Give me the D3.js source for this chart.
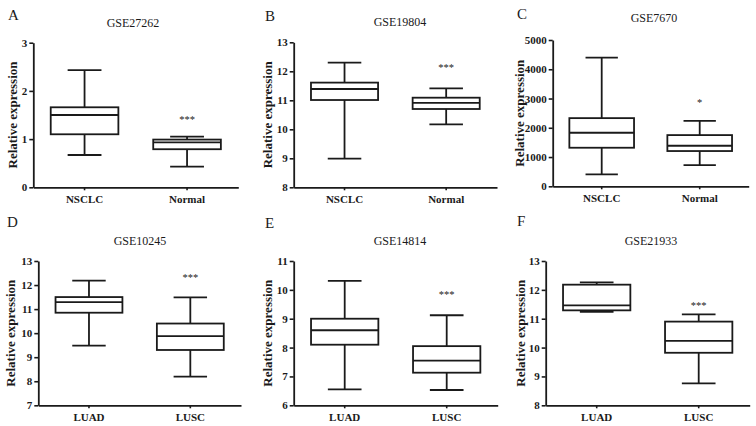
<!DOCTYPE html>
<html>
<head>
<meta charset="utf-8">
<script src="https://cdn.jsdelivr.net/npm/d3@7"></script>
<style>
  html, body { margin: 0; padding: 0; background: #fff; }
  svg { display: block; }
  text { font-family: "Liberation Serif", "Times New Roman", serif; fill: #1a1a1a; }
</style>
</head>
<body>
<div id="chart"></div>
<script>
// ---- data ----
var titles = ["GSE27262", "GSE19804", "GSE7670", "GSE10245", "GSE14814", "GSE21933"];
var letters = ["A", "B", "C", "D", "E", "F"];
var topCats = ["NSCLC", "Normal"];
var bottomCats = ["LUAD", "LUSC"];

// box stats per group: [min, q1, median, q3, max]
var gse27262 = [[0.67, 1.10, 1.50, 1.66, 2.43], [0.43, 0.79, 0.93, 0.99, 1.05]];
var gse19804 = [[8.99, 11.01, 11.39, 11.61, 12.30], [10.17, 10.70, 10.91, 11.09, 11.41]];
var gse7670  = [[409, 1318, 1830, 2330, 4400], [727, 1205, 1386, 1750, 2239]];
var gse10245 = [[9.48, 10.85, 11.29, 11.50, 12.18], [8.19, 9.30, 9.88, 10.40, 11.49]];
var gse14814 = [[6.55, 8.10, 8.60, 9.00, 10.31], [6.53, 7.13, 7.55, 8.05, 9.12]];
var gse21933 = [[11.24, 11.29, 11.46, 12.18, 12.26], [8.76, 9.82, 10.23, 10.90, 11.15]];

var yTicks = [
  [0, 1, 2, 3],
  [8, 9, 10, 11, 12, 13],
  [0, 1000, 2000, 3000, 4000, 5000],
  [7, 8, 9, 10, 11, 12, 13],
  [6, 7, 8, 9, 10, 11],
  [8, 9, 10, 11, 12, 13]
];
var stars = ["***", "***", "*", "***", "***", "***"];
var starAt = [1.44, 12.2, 2915, 12.39, 9.90, 11.5];

// ---- layout (pixel placement of each panel) ----
var layout = [
  {x0: 33.3,  x1: 238.3, yT: 42.7, yB: 187.3, lx: 8,   ly: 20,  tx: 133, ty: 26.5, labX: 16.5},
  {x0: 293.7, x1: 497,   yT: 42.3, yB: 187.3, lx: 265, ly: 21,  tx: 400, ty: 26,   labX: 272},
  {x0: 552.7, x1: 748.7, yT: 40,   yB: 186.3, lx: 517, ly: 18.5, tx: 654, ty: 22,  labX: 524},
  {x0: 38.3,  x1: 241,   yT: 261,  yB: 405.3, lx: 7,   ly: 226.5, tx: 140, ty: 245.3, labX: 15},
  {x0: 293.7, x1: 497.7, yT: 261,  yB: 405.3, lx: 265, ly: 228, tx: 400, ty: 244.7, labX: 272},
  {x0: 545.7, x1: 749.7, yT: 261,  yB: 405.3, lx: 517, ly: 226, tx: 651, ty: 245,   labX: 525}
];

var allStats = [gse27262, gse19804, gse7670, gse10245, gse14814, gse21933];
var ink = "#1a1a1a";

var svg = d3.select("#chart").append("svg")
  .attr("width", 756).attr("height", 426);

allStats.forEach(function(stats, i){
  var L = layout[i];
  var cats = i < 3 ? topCats : bottomCats;
  var ticks = yTicks[i];
  var g = svg.append("g");

  var x = d3.scaleBand().domain(cats).range([L.x0, L.x1])
    .paddingInner(0.34).paddingOuter(0.17);
  var y = d3.scaleLinear().domain([ticks[0], ticks[ticks.length - 1]]).range([L.yB, L.yT]);

  // panel letter + title
  g.append("text").attr("x", L.lx).attr("y", L.ly)
    .style("font-size", "15px").text(letters[i]);
  g.append("text").attr("x", L.tx).attr("y", L.ty)
    .attr("text-anchor", "middle").style("font-size", "12px").text(titles[i]);

  // y axis
  var ya = g.append("g").attr("transform", "translate(" + L.x0 + ",0)")
    .call(d3.axisLeft(y).tickValues(ticks).tickFormat(d3.format("d"))
      .tickSize(4).tickSizeOuter(0).tickPadding(2));
  // x axis
  var xa = g.append("g").attr("transform", "translate(0," + L.yB + ")")
    .call(d3.axisBottom(x).tickSize(3).tickSizeOuter(0).tickPadding(3));
  [ya, xa].forEach(function(a){
    a.select(".domain").attr("stroke", ink).attr("stroke-width", 1.8);
    a.selectAll(".tick line").attr("stroke", ink).attr("stroke-width", 1.6);
    a.selectAll("text").attr("fill", ink)
      .style("font-family", "'Liberation Serif', 'Times New Roman', serif")
      .style("font-weight", "bold").style("font-size", "11px");
  });
  xa.selectAll("text").attr("dy", "0.9em");

  // y label
  g.append("text")
    .attr("transform", "translate(" + L.labX + "," + ((L.yT + L.yB) / 2) + ") rotate(-90)")
    .attr("text-anchor", "middle")
    .style("font-size", "13px").style("font-weight", "bold")
    .text("Relative expression");

  // boxes
  var bw = x.bandwidth();
  var boxes = g.selectAll("g.box").data(stats).enter().append("g")
    .attr("class", "box")
    .attr("transform", function(d, j){ return "translate(" + (x(cats[j]) + bw / 2) + ",0)"; });
  var line = function(sel){ return sel.attr("stroke", ink).attr("stroke-width", 1.8).attr("fill", "none"); };

  line(boxes.append("line").attr("x1", 0).attr("x2", 0)
    .attr("y1", function(d){ return y(d[0]); }).attr("y2", function(d){ return y(d[1]); }));
  line(boxes.append("line").attr("x1", 0).attr("x2", 0)
    .attr("y1", function(d){ return y(d[3]); }).attr("y2", function(d){ return y(d[4]); }));
  line(boxes.append("line").attr("x1", -bw / 4).attr("x2", bw / 4)
    .attr("y1", function(d){ return y(d[0]); }).attr("y2", function(d){ return y(d[0]); }));
  line(boxes.append("line").attr("x1", -bw / 4).attr("x2", bw / 4)
    .attr("y1", function(d){ return y(d[4]); }).attr("y2", function(d){ return y(d[4]); }));
  line(boxes.append("rect").attr("x", -bw / 2).attr("width", bw)
    .attr("y", function(d){ return y(d[3]); })
    .attr("height", function(d){ return y(d[1]) - y(d[3]); }))
    .attr("fill", "#fff");
  line(boxes.append("line").attr("x1", -bw / 2).attr("x2", bw / 2)
    .attr("y1", function(d){ return y(d[2]); }).attr("y2", function(d){ return y(d[2]); }));

  // significance marks above the second group
  g.append("text")
    .attr("x", x(cats[1]) + bw / 2)
    .attr("y", y(starAt[i]) + 5)
    .attr("text-anchor", "middle")
    .style("font-size", "10.5px")
    .text(stars[i]);
});
</script>
</body>
</html>
